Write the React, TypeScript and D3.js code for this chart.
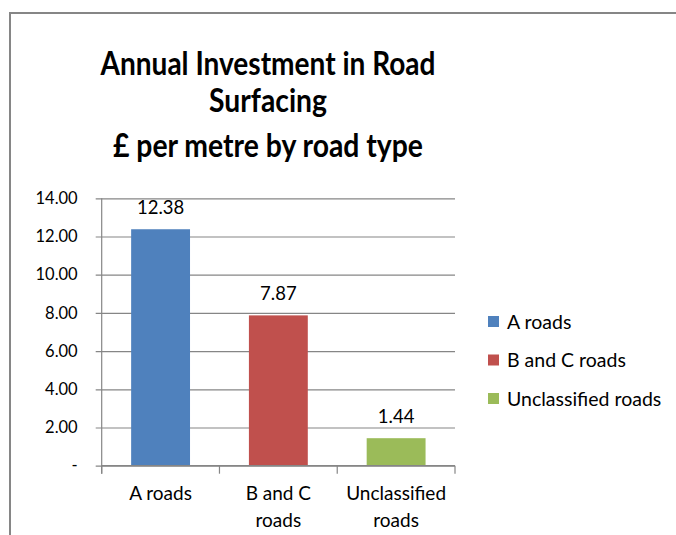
import React, { useEffect, useRef } from 'react';
import * as d3 from 'd3';

// data
const categories = ['A roads', 'B and C roads', 'Unclassified roads'];
const categoryLines = [['A roads'], ['B and C', 'roads'], ['Unclassified', 'roads']];
const values = [12.38, 7.87, 1.44];
const colors = ['#4F81BD', '#C0504D', '#9BBB59'];
const yTicks = [0, 2, 4, 6, 8, 10, 12, 14];
const titleLines = ['Annual Investment in Road', 'Surfacing', '£ per metre by road type'];

const FONT = 'Lato, "Open Sans", sans-serif';

const App = () => {
  const svgRef = useRef<SVGSVGElement>(null);

  useEffect(() => {
    const svg = d3.select(svgRef.current);
    svg.selectAll('*').remove();

    const width = 676, height = 535;
    const plot = { left: 101.7, right: 455, top: 198.3, bottom: 465.7 };

    svg.attr('width', width).attr('height', height);

    // chart frame (only top and left edges are visible in the picture)
    svg.append('rect').attr('x', 0).attr('y', 0).attr('width', width).attr('height', height).attr('fill', '#fff');
    svg.append('path')
      .attr('d', `M10,${height} L10,13 L${width},13`)
      .attr('fill', 'none')
      .attr('stroke', '#868686')
      .attr('stroke-width', 2);

    // title - Calibri is narrow, so squeeze the lines to the widths seen
    const titleY = [75, 112, 157];
    const titleW = [335, 118, 310];
    svg.append('g')
      .selectAll('text')
      .data(titleLines)
      .enter()
      .append('text')
      .attr('x', 268)
      .attr('y', (d, i) => titleY[i])
      .attr('text-anchor', 'middle')
      .attr('font-family', FONT)
      .attr('font-weight', 'bold')
      .attr('font-size', 33)
      .attr('textLength', (d, i) => titleW[i])
      .attr('lengthAdjust', 'spacingAndGlyphs')
      .attr('fill', '#000')
      .text(d => d);

    const x = d3.scaleBand()
      .domain(categories)
      .range([plot.left, plot.right])
      .paddingInner(0.5)
      .paddingOuter(0.25);

    const y = d3.scaleLinear()
      .domain([0, 14])
      .range([plot.bottom, plot.top]);

    // gridlines + y axis
    const yAxis = d3.axisLeft(y)
      .tickValues(yTicks)
      .tickSize(-(plot.right - plot.left))
      .tickPadding(24)
      .tickFormat(d => (+d === 0 ? '-' : d3.format('.2f')(+d)));

    const gy = svg.append('g')
      .attr('transform', `translate(${plot.left},0)`)
      .call(yAxis);
    gy.select('.domain').remove();
    gy.selectAll('.tick line')
      .attr('x1', -6)
      .attr('stroke', '#868686')
      .attr('stroke-width', 1.2);
    gy.selectAll('.tick text')
      .attr('font-family', FONT)
      .attr('font-size', 16.5)
      .attr('fill', '#000');

    // y axis line
    svg.append('line')
      .attr('x1', plot.left).attr('x2', plot.left)
      .attr('y1', plot.top).attr('y2', plot.bottom + 8)
      .attr('stroke', '#868686').attr('stroke-width', 1.2);

    // bars
    svg.append('g')
      .selectAll('rect')
      .data(values)
      .enter()
      .append('rect')
      .attr('x', (d, i) => x(categories[i]) as number)
      .attr('y', d => y(d))
      .attr('width', x.bandwidth())
      .attr('height', d => y(0) - y(d))
      .attr('fill', (d, i) => colors[i]);

    // value labels
    svg.append('g')
      .selectAll('text')
      .data(values)
      .enter()
      .append('text')
      .attr('x', (d, i) => (x(categories[i]) as number) + x.bandwidth() / 2)
      .attr('y', d => y(d) - 15)
      .attr('text-anchor', 'middle')
      .attr('font-family', FONT)
      .attr('font-size', 18.5)
      .attr('fill', '#000')
      .text(d => d.toFixed(2));

    // x axis line and category separators
    svg.append('line')
      .attr('x1', plot.left).attr('x2', plot.right)
      .attr('y1', plot.bottom).attr('y2', plot.bottom)
      .attr('stroke', '#868686').attr('stroke-width', 1.2);
    const step = x.step();
    svg.append('g')
      .selectAll('line')
      .data(d3.range(categories.length + 1))
      .enter()
      .append('line')
      .attr('x1', i => plot.left + i * step)
      .attr('x2', i => plot.left + i * step)
      .attr('y1', plot.bottom)
      .attr('y2', plot.bottom + 8)
      .attr('stroke', '#868686').attr('stroke-width', 1.2);

    // category labels
    const cat = svg.append('g')
      .selectAll('text')
      .data(categoryLines)
      .enter()
      .append('text')
      .attr('text-anchor', 'middle')
      .attr('font-family', FONT)
      .attr('font-size', 19)
      .attr('fill', '#000');
    cat.each(function (lines, i) {
      const cx = (x(categories[i]) as number) + x.bandwidth() / 2;
      d3.select(this)
        .selectAll('tspan')
        .data(lines)
        .enter()
        .append('tspan')
        .attr('x', cx)
        .attr('y', (d, j) => 500 + j * 27)
        .text(d => d);
    });

    // legend
    const legend = svg.append('g')
      .selectAll('g')
      .data(categories)
      .enter()
      .append('g')
      .attr('transform', (d, i) => `translate(488,${322 + i * 38.5})`);
    legend.append('rect')
      .attr('x', 0).attr('y', -6)
      .attr('width', 11).attr('height', 11)
      .attr('fill', (d, i) => colors[i]);
    legend.append('text')
      .attr('x', 19)
      .attr('y', 6.5)
      .attr('font-family', FONT)
      .attr('font-size', 19.5)
      .attr('fill', '#000')
      .text(d => d);
  }, []);

  return (
    <div style={{ position: 'absolute', left: 0, top: 0 }}>
      <svg ref={svgRef} style={{ display: 'block' }} />
    </div>
  );
};

export default App;
